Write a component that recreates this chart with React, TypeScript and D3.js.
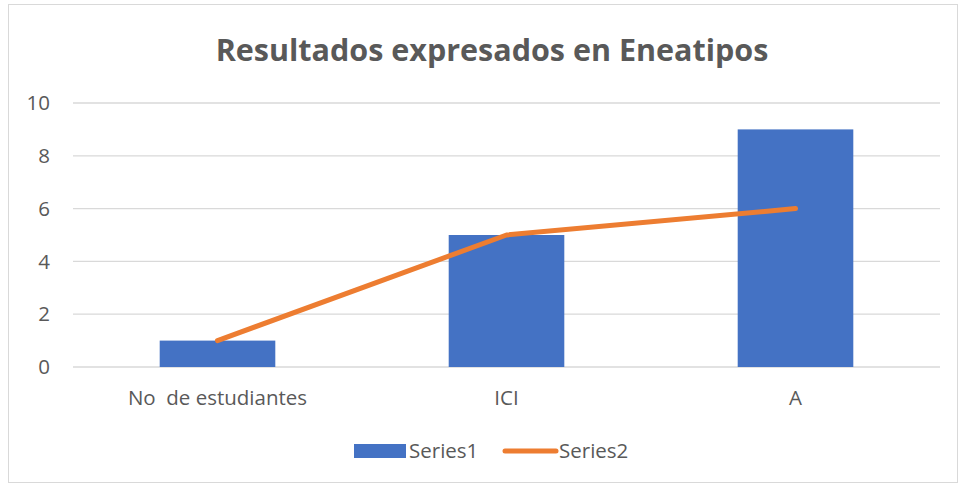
import React from "react";
import * as d3 from "d3";

const categories = ["No  de estudiantes", "ICI", "A"];
const series1 = [1, 5, 9];
const series2 = [1, 5, 6];
const yTicks = [0, 2, 4, 6, 8, 10];
const seriesNames = ["Series1", "Series2"];

const W = 959,
  H = 484;
const margin = { left: 73, right: 19, top: 103, bottom: 117 };
const font = "'Open Sans', Calibri, sans-serif";
const fs = 20.5;

export default function App() {
  const x = d3
    .scaleBand()
    .domain(categories)
    .range([margin.left, W - margin.right])
    .paddingInner(0)
    .paddingOuter(0);

  const y = d3.scaleLinear().domain([0, 10]).range([H - margin.bottom, margin.top]);

  const barW = x.bandwidth() / 2.5;
  const cx = (c: string) => (x(c) as number) + x.bandwidth() / 2;

  const line = d3
    .line<number>()
    .x((_, i) => cx(categories[i]))
    .y(d => y(d));

  return (
    <svg
      width={W}
      height={H}
      style={{ position: "absolute", left: 0, top: 0 }}
      fontFamily={font}
    >
      <rect x={0} y={0} width={W} height={H} fill="#fff" />
      <rect x={8.5} y={4.5} width={W - 10} height={H - 6} fill="none" stroke="#d9d9d9" />

      <text
        x={492}
        y={61}
        textAnchor="middle"
        fontSize={30.5}
        fontWeight="bold"
        fill="#595959"
      >
        Resultados expresados en Eneatipos
      </text>

      {yTicks.map(t => (
        <g key={t}>
          <line
            x1={margin.left}
            x2={W - margin.right}
            y1={y(t)}
            y2={y(t)}
            stroke="#d9d9d9"
            strokeWidth={1.3}
          />
          <text
            x={50}
            y={y(t)}
            dy="0.35em"
            textAnchor="end"
            fontSize={fs}
            fill="#595959"
          >
            {t}
          </text>
        </g>
      ))}

      {series1.map((v, i) => (
        <rect
          key={i}
          x={cx(categories[i]) - barW / 2}
          y={y(v)}
          width={barW}
          height={y(0) - y(v)}
          fill="#4472C4"
        />
      ))}

      <path
        d={line(series2) || ""}
        fill="none"
        stroke="#ED7D31"
        strokeWidth={5}
        strokeLinecap="round"
        strokeLinejoin="round"
      />

      {categories.map(c => (
        <text
          key={c}
          x={cx(c)}
          y={405}
          textAnchor="middle"
          fontSize={fs}
          fill="#595959"
          style={{ whiteSpace: "pre" }}
        >
          {c}
        </text>
      ))}

      <g>
        <rect x={354} y={444} width={52} height={14} fill="#4472C4" />
        <text x={409} y={458} fontSize={fs} fill="#595959">
          {seriesNames[0]}
        </text>
        <line
          x1={505}
          x2={556}
          y1={451}
          y2={451}
          stroke="#ED7D31"
          strokeWidth={5}
          strokeLinecap="round"
        />
        <text x={559} y={458} fontSize={fs} fill="#595959">
          {seriesNames[1]}
        </text>
      </g>
    </svg>
  );
}
